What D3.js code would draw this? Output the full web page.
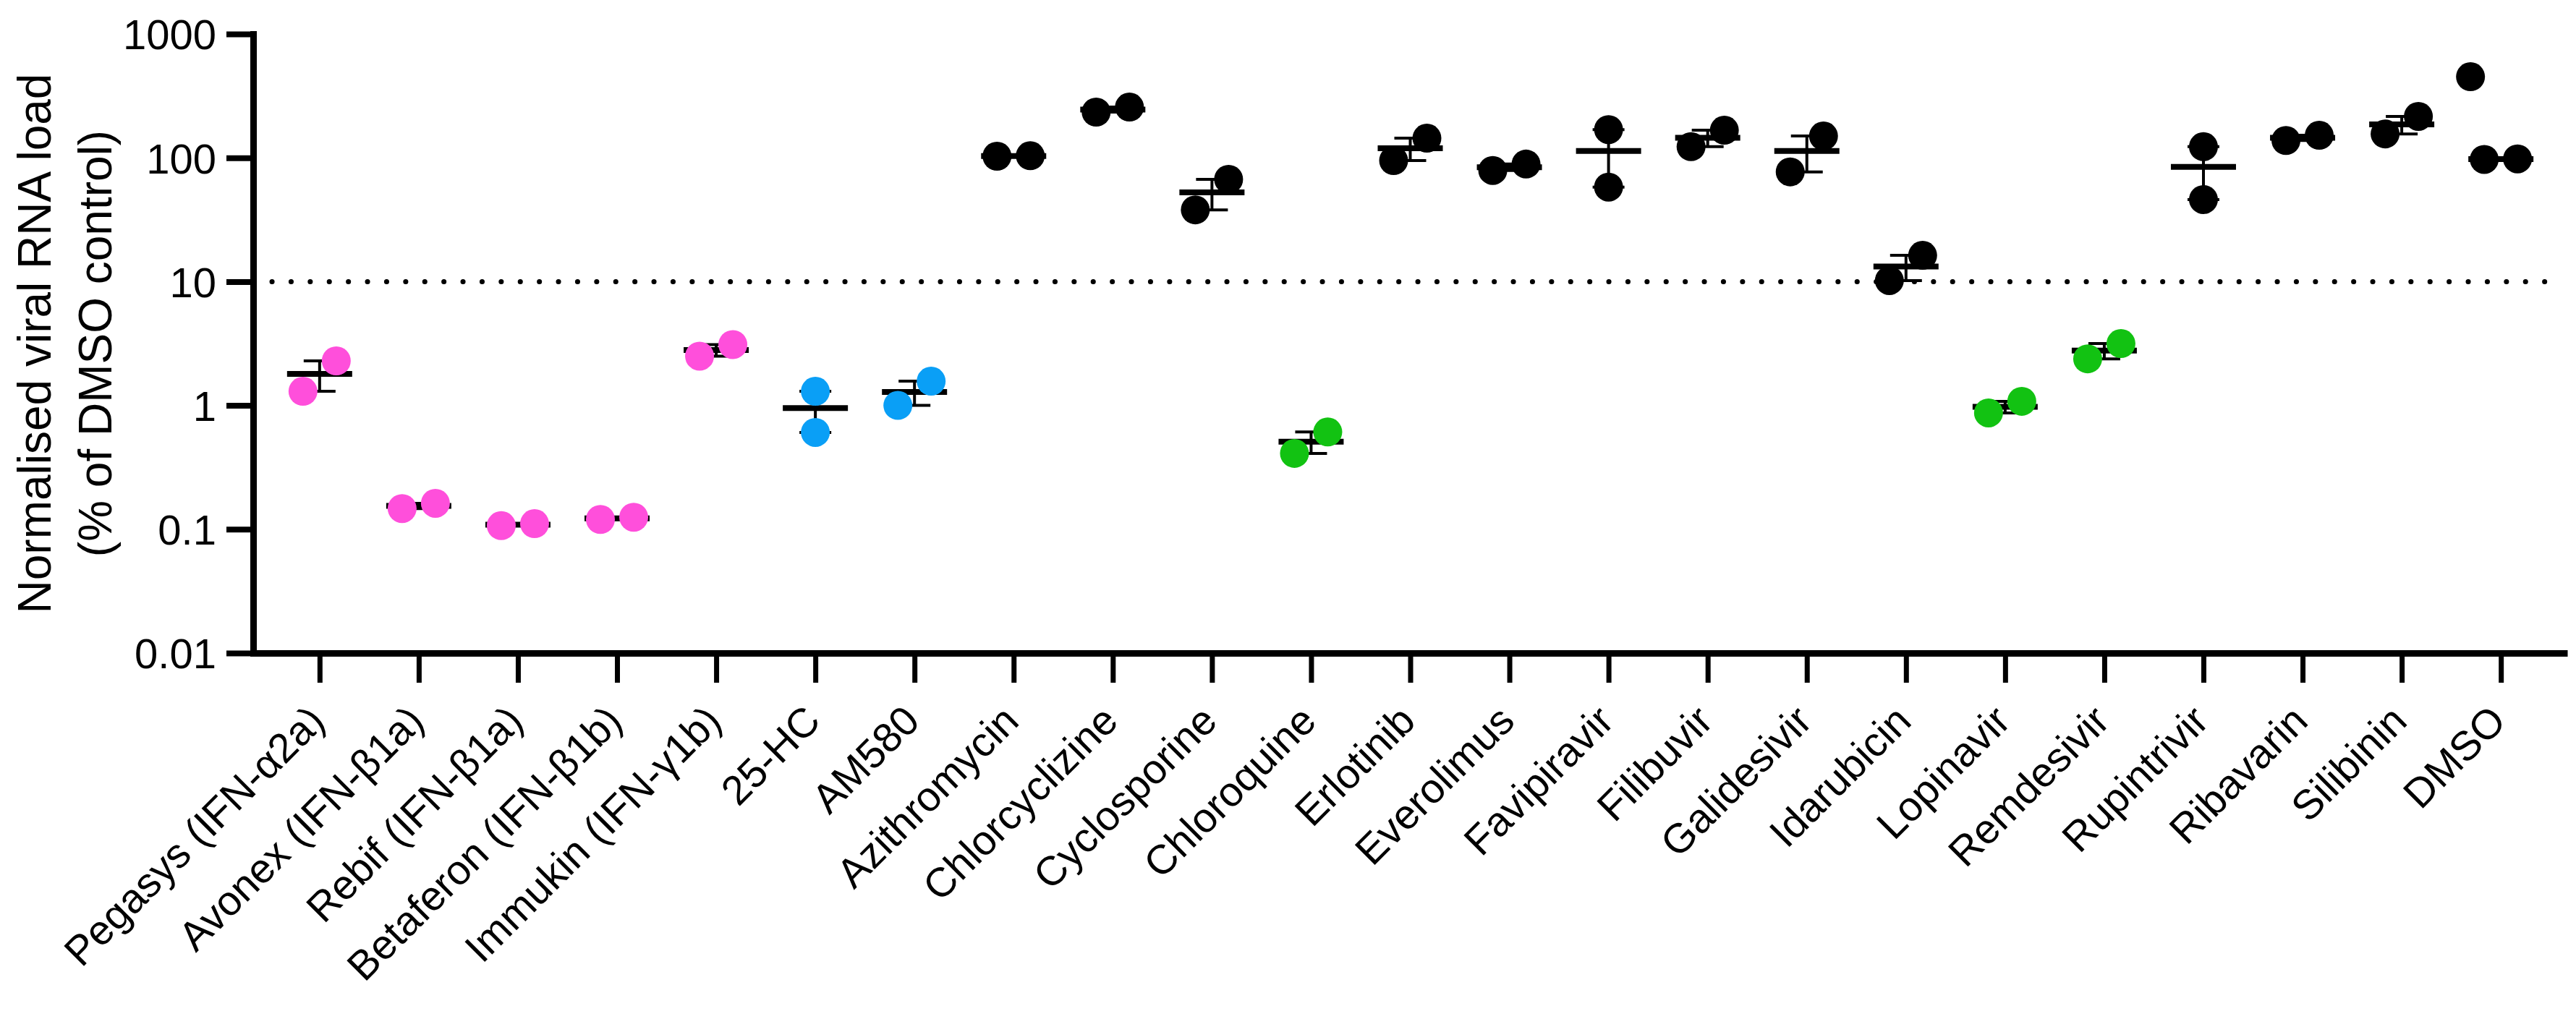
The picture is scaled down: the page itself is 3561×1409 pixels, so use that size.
<!DOCTYPE html>
<html>
<head>
<meta charset="utf-8">
<script src="https://cdn.jsdelivr.net/npm/d3@7"></script>
<style>
html, body { margin: 0; padding: 0; background: #ffffff; }
svg { display: block; }
text { font-family: "Liberation Sans", Arial, Helvetica, sans-serif; fill: #000; }
</style>
</head>
<body>
<div id="chart"></div>
<script>
// ---------------- data ----------------
const categories = [
  "Pegasys (IFN-\u03b12a)", "Avonex (IFN-\u03b21a)", "Rebif (IFN-\u03b21a)", "Betaferon (IFN-\u03b21b)",
  "Immukin (IFN-\u03b31b)", "25-HC", "AM580", "Azithromycin", "Chlorcyclizine", "Cyclosporine",
  "Chloroquine", "Erlotinib", "Everolimus", "Favipiravir", "Filibuvir", "Galidesivir", "Idarubicin",
  "Lopinavir", "Remdesivir", "Rupintrivir", "Ribavarin", "Silibinin", "DMSO"
];
const replicateA = [1.30, 0.147, 0.107, 0.120, 2.50, 1.30, 1.00, 103, 234, 38, 0.41, 95, 79, 169, 123, 77, 10.2, 0.87, 2.38, 123, 138, 156, 97];
const replicateB = [2.29, 0.162, 0.111, 0.125, 3.10, 0.605, 1.57, 104, 257, 67, 0.61, 144, 89, 58, 167, 150, 16.3, 1.08, 3.16, 46, 152, 216, 98];
const groupOf = ["ifn","ifn","ifn","ifn","ifn","blue","blue","none","none","none","green","none","none","none","none","none","none","green","green","none","none","none","none"];
const extraCategories = ["DMSO"];
const extraValues = [452];
const yTickValues = [0.01, 0.1, 1, 10, 100, 1000];
const yTickLabels = ["0.01", "0.1", "1", "10", "100", "1000"];
const thresholdValue = 10;
const yTitleLines = ["Normalised viral RNA load", "(% of DMSO control)"];
const groupColors = { ifn: "#ff4fdb", blue: "#0a9ff6", green: "#12c212", none: "#000000" };

// ---------------- layout ----------------
const W = 3561, H = 1409;
const axisX = 350, axisRight = 3549, axisBottom = 903, axisTop = 47;
const R = 20;

const svg = d3.select("#chart").append("svg").attr("width", W).attr("height", H)
  .style("background", "#fff");

const x = d3.scalePoint().domain(categories).range([axisX, axisRight]).padding(0.67);
const y = d3.scaleLog().domain([0.01, 1000]).range([axisBottom, axisTop]);

// threshold dotted line
svg.append("line")
  .attr("x1", 376).attr("x2", 3530)
  .attr("y1", y(thresholdValue)).attr("y2", y(thresholdValue))
  .attr("stroke", "#000").attr("stroke-width", 7)
  .attr("stroke-linecap", "round").attr("stroke-dasharray", "0.1 26.3");

// y axis
const yAxis = svg.append("g").attr("transform", `translate(${axisX},0)`)
  .call(d3.axisLeft(y).tickValues(yTickValues).tickFormat((d, i) => yTickLabels[i])
    .tickSize(37).tickSizeOuter(0).tickPadding(14));
yAxis.select(".domain").attr("stroke-width", 9).attr("stroke-linecap", "square");
yAxis.selectAll(".tick line").attr("stroke-width", 8);
yAxis.selectAll(".tick text").style("font-size", "58px").attr("dy", "0.36em");

// x axis
const xAxis = svg.append("g").attr("transform", `translate(0,${axisBottom})`)
  .call(d3.axisBottom(x).tickSize(41).tickSizeOuter(0).tickFormat(""));
xAxis.select(".domain").attr("stroke-width", 9);
xAxis.selectAll(".tick line").attr("stroke-width", 7);

// x labels
svg.append("g").selectAll("text").data(categories).join("text")
  .attr("transform", d => `translate(${x(d) + 10},1000) rotate(-45)`)
  .attr("text-anchor", "end")
  .style("font-size", "57px")
  .text(d => d);

// y title
yTitleLines.forEach((t, i) => {
  svg.append("text")
    .attr("transform", `translate(${70 + i * 84},${(axisTop + axisBottom) / 2}) rotate(-90)`)
    .attr("text-anchor", "middle")
    .style("font-size", "64px")
    .text(t);
});

// stats
const rows = categories.map((c, i) => {
  const vals = [replicateA[i], replicateB[i]].sort((a, b) => a - b);
  const mean = d3.mean(vals);
  const sem = d3.deviation(vals) / Math.sqrt(vals.length);
  return { c, vals, mean, sem, color: groupColors[groupOf[i]] };
});

const marks = svg.append("g");

// error bars and mean lines (behind points)
rows.forEach(r => {
  const cx = x(r.c);
  const yHi = y(r.mean + r.sem), yLo = y(Math.max(r.mean - r.sem, 1e-4));
  const g = marks.append("g").attr("stroke", "#000").attr("stroke-width", 4);
  g.append("line").attr("x1", cx).attr("x2", cx).attr("y1", yHi).attr("y2", yLo);
  g.append("line").attr("x1", cx - 22).attr("x2", cx + 22).attr("y1", yHi).attr("y2", yHi);
  g.append("line").attr("x1", cx - 22).attr("x2", cx + 22).attr("y1", yLo).attr("y2", yLo);
  marks.append("line").attr("x1", cx - 45).attr("x2", cx + 45)
    .attr("y1", y(r.mean)).attr("y2", y(r.mean))
    .attr("stroke", "#000").attr("stroke-width", 8);
});

// points
rows.forEach(r => {
  const cx = x(r.c);
  const ys = r.vals.map(v => y(v));
  const stacked = Math.abs(ys[0] - ys[1]) > 2.7 * R;
  r.vals.forEach((v, j) => {
    const px = stacked ? cx : cx + (j === 0 ? -23 : 23);
    marks.append("circle").attr("cx", px).attr("cy", y(v)).attr("r", R).attr("fill", r.color);
  });
});
extraCategories.forEach((c, i) => {
  marks.append("circle").attr("cx", x(c) - 42).attr("cy", y(extraValues[i])).attr("r", R).attr("fill", "#000");
});
</script>
</body>
</html>
